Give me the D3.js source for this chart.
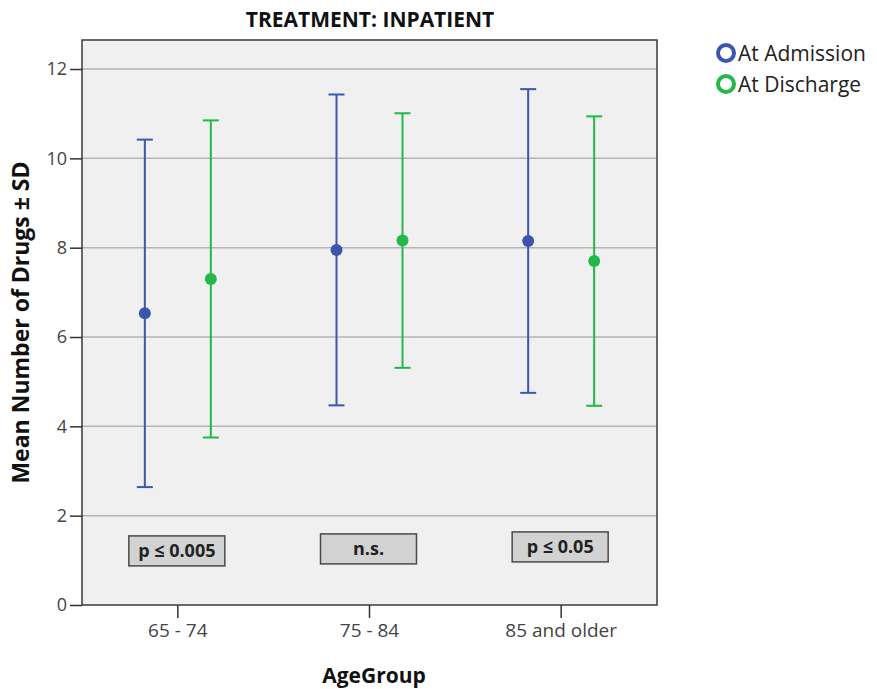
<!DOCTYPE html>
<html>
<head>
<meta http-equiv="Content-Type" content="text/html; charset=utf-8">
<script src="https://cdnjs.cloudflare.com/ajax/libs/d3/7.8.5/d3.min.js"></script>
<style>
  body { margin: 0; background: #fff; }
  text { font-family: "Open Sans", "DejaVu Sans", sans-serif; }
</style>
</head>
<body>
<div id="chart"></div>
<script type="text/javascript">

// ---------------------------------------- DATA
var ageGroups = ["65 - 74", "75 - 84", "85 and older"];
var seriesNames = ["At Admission", "At Discharge"];
var admissionMean = [6.53, 7.95, 8.15];
var admissionSD   = [3.89, 3.48, 3.40];
var dischargeMean = [7.30, 8.16, 7.70];
var dischargeSD   = [3.55, 2.85, 3.24];
var pLabels = ["p \u2264 0.005", "n.s.", "p \u2264 0.05"];
var yTicks = [0, 2, 4, 6, 8, 10, 12];

// ---------------------------------------- SVG
var width = 877, height = 689;
var m = {left: 82, right: 220, top: 40, bottom: 84};
var colors = ["#3d56ad", "#22b84a"];

var svg = d3.select("#chart").append("svg")
  .attr("width", width)
  .attr("height", height);

var x = d3.scaleBand()
  .domain(ageGroups)
  .range([m.left, width - m.right]);

var y = d3.scaleLinear()
  .domain([0, 12.65])
  .range([height - m.bottom, m.top]);

var offset = d3.scaleOrdinal()
  .domain(seriesNames)
  .range([-33, 33]);

// plot background
svg.append("rect")
  .attr("x", m.left).attr("y", m.top)
  .attr("width", width - m.right - m.left)
  .attr("height", height - m.bottom - m.top)
  .attr("fill", "#f0f0f0");

// grid lines
svg.append("g")
  .selectAll("line")
  .data(yTicks.filter(function(d){ return d > 0; }))
  .enter().append("line")
  .attr("x1", m.left).attr("x2", width - m.right)
  .attr("y1", function(d){ return y(d); })
  .attr("y2", function(d){ return y(d); })
  .attr("stroke", "#b4b4b4")
  .attr("stroke-width", 1.5);

// frame
svg.append("rect")
  .attr("x", m.left).attr("y", m.top)
  .attr("width", width - m.right - m.left)
  .attr("height", height - m.bottom - m.top)
  .attr("fill", "none")
  .attr("stroke", "#3a3a3a")
  .attr("stroke-width", 1.5);

// axes
var yAxis = svg.append("g")
  .attr("transform", "translate(" + m.left + ",0)")
  .call(d3.axisLeft(y).tickValues(yTicks).tickSize(12).tickPadding(3).tickFormat(d3.format("d")));
yAxis.select(".domain").remove();
yAxis.selectAll("line").attr("stroke", "#333").attr("stroke-width", 1.5);
yAxis.selectAll("text").attr("font-size", 18).attr("fill", "#444")
  .style("font-family", "'Open Sans', sans-serif");

var xAxis = svg.append("g")
  .attr("transform", "translate(0," + (height - m.bottom) + ")")
  .call(d3.axisBottom(x).tickSize(13).tickPadding(6));
xAxis.select(".domain").remove();
xAxis.selectAll("line").attr("stroke", "#333").attr("stroke-width", 1.5);
xAxis.selectAll("text").attr("font-size", 19).attr("fill", "#444")
  .style("font-family", "'Open Sans', sans-serif");

// ---------------------------------------- ERROR BARS
var rows = [];
ageGroups.forEach(function(g, i){
  rows.push({group: g, series: seriesNames[0], mean: admissionMean[i], sd: admissionSD[i], c: colors[0]});
  rows.push({group: g, series: seriesNames[1], mean: dischargeMean[i], sd: dischargeSD[i], c: colors[1]});
});

function cx(d){ return x(d.group) + x.bandwidth() / 2 + offset(d.series); }

var bars = svg.append("g").selectAll("g")
  .data(rows).enter().append("g");

bars.append("line")
  .attr("x1", cx).attr("x2", cx)
  .attr("y1", function(d){ return y(d.mean + d.sd); })
  .attr("y2", function(d){ return y(d.mean - d.sd); })
  .attr("stroke", function(d){ return d.c; })
  .attr("stroke-width", 2);

[1, -1].forEach(function(s){
  bars.append("line")
    .attr("x1", function(d){ return cx(d) - 8; })
    .attr("x2", function(d){ return cx(d) + 8; })
    .attr("y1", function(d){ return y(d.mean + s * d.sd); })
    .attr("y2", function(d){ return y(d.mean + s * d.sd); })
    .attr("stroke", function(d){ return d.c; })
    .attr("stroke-width", 2);
});

bars.append("circle")
  .attr("cx", cx)
  .attr("cy", function(d){ return y(d.mean); })
  .attr("r", 6)
  .attr("fill", function(d){ return d.c; });

// ---------------------------------------- P VALUE BOXES
var pBox = svg.append("g").selectAll("g")
  .data(pLabels).enter().append("g")
  .attr("transform", function(d, i){
    return "translate(" + (x(ageGroups[i]) + x.bandwidth() / 2 - 1) + "," + (y(0.92) - 15 + (1 - i) * 2) + ")";
  });

pBox.append("rect")
  .attr("x", -48).attr("y", -15)
  .attr("width", 96).attr("height", 30)
  .attr("fill", "#d2d2d2")
  .attr("stroke", "#4a4a4a")
  .attr("stroke-width", 1.5);

pBox.append("text")
  .attr("text-anchor", "middle")
  .attr("dy", "0.36em")
  .attr("font-size", 18)
  .attr("font-weight", "bold")
  .attr("fill", "#222")
  .text(function(d){ return d; });

// ---------------------------------------- TITLES
svg.append("text")
  .attr("x", 370).attr("y", 27)
  .attr("text-anchor", "middle")
  .attr("font-size", 21)
  .attr("font-weight", "bold")
  .style("font-family", "'Liberation Sans Narrow', 'Open Sans', sans-serif")
  .attr("fill", "#111")
  .text("TREATMENT: INPATIENT");

svg.append("text")
  .attr("transform", "translate(29," + ((m.top + height - m.bottom) / 2) + ") rotate(-90)")
  .attr("text-anchor", "middle")
  .attr("font-size", 23)
  .attr("font-weight", "bold")
  .attr("fill", "#111")
  .text("Mean Number of Drugs \u00b1 SD");

svg.append("text")
  .attr("x", 374).attr("y", 683)
  .attr("text-anchor", "middle")
  .attr("font-size", 21)
  .attr("font-weight", "bold")
  .attr("fill", "#111")
  .text("AgeGroup");

// ---------------------------------------- LEGEND
var legend = svg.append("g").selectAll("g")
  .data(seriesNames).enter().append("g")
  .attr("transform", function(d, i){ return "translate(726," + (53 + i * 31) + ")"; });

legend.append("circle")
  .attr("r", 8)
  .attr("fill", "none")
  .attr("stroke", function(d, i){ return colors[i]; })
  .attr("stroke-width", 4);

legend.append("text")
  .attr("x", 12)
  .attr("dy", "0.36em")
  .attr("font-size", 21)
  .attr("fill", "#222")
  .text(function(d){ return d; });

</script>
</body>
</html>
